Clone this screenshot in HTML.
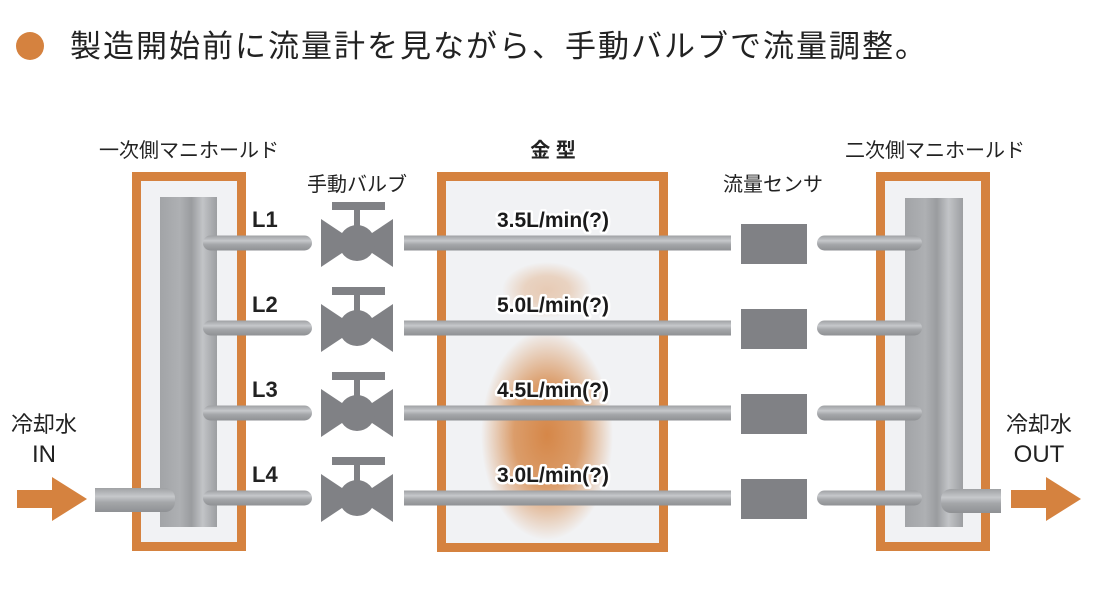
<!DOCTYPE html>
<html><head><meta charset="utf-8"><style>
html,body{margin:0;padding:0;background:#fff;}
svg{display:block;}
.t{font-family:"Liberation Sans","Noto Sans CJK JP",sans-serif;fill:#222;}
.lab{font-family:"Liberation Sans","Noto Sans CJK JP",sans-serif;font-weight:bold;font-size:21px;fill:#1a1a1a;paint-order:stroke;stroke:#fff;stroke-width:5px;stroke-linejoin:round;}
</style></head><body>
<svg width="1108" height="592" viewBox="0 0 1108 592" xmlns="http://www.w3.org/2000/svg">
<defs>
<linearGradient id="col" x1="0" x2="1" y1="0" y2="0">
<stop offset="0" stop-color="#a2a4a7"/><stop offset="0.35" stop-color="#aeb0b3"/><stop offset="0.55" stop-color="#9a9c9f"/><stop offset="0.75" stop-color="#c2c4c7"/><stop offset="1" stop-color="#9c9ea1"/>
</linearGradient>
<linearGradient id="pipe" x1="0" x2="0" y1="0" y2="1">
<stop offset="0" stop-color="#9fa1a4"/><stop offset="0.35" stop-color="#c6c8cb"/><stop offset="0.6" stop-color="#a4a6a9"/><stop offset="1" stop-color="#8f9194"/>
</linearGradient>
<radialGradient id="glow" cx="0.5" cy="0.5" r="0.5">
<stop offset="0" stop-color="#d4813f" stop-opacity="1"/><stop offset="0.5" stop-color="#d4823f" stop-opacity="0.8"/><stop offset="1" stop-color="#d4823f" stop-opacity="0"/>
</radialGradient>
<g id="valve">
<rect x="-25" y="-41" width="53" height="8" fill="#808185"/>
<rect x="-3" y="-35" width="6" height="22" fill="#808185"/>
<polygon points="-36,-24 0,0 -36,24" fill="#808185"/>
<polygon points="36,-24 0,0 36,24" fill="#808185"/>
<circle cx="0" cy="0" r="18" fill="#808185"/>
</g>
</defs>

<circle cx="30" cy="46" r="14" fill="#d5823f"/>
<text class="t" x="70" y="57" font-size="31" letter-spacing="2">製造開始前に流量計を見ながら、手動バルブで流量調整。</text>

<text class="t" x="189" y="157" font-size="20" text-anchor="middle">一次側マニホールド</text>
<text class="t" x="553" y="157" font-size="20" text-anchor="middle" font-weight="bold">金 型</text>
<text class="t" x="935" y="157" font-size="20" text-anchor="middle">二次側マニホールド</text>
<text class="t" x="357" y="191" font-size="20" text-anchor="middle">手動バルブ</text>
<text class="t" x="773" y="191" font-size="20" text-anchor="middle">流量センサ</text>

<rect x="136.5" y="176.5" width="105" height="370" fill="#f1f2f4" stroke="#d5823f" stroke-width="9"/>
<rect x="441.5" y="176.5" width="222" height="371" fill="#f1f2f4" stroke="#d5823f" stroke-width="9"/>
<rect x="880.5" y="176.5" width="105" height="370" fill="#f1f2f4" stroke="#d5823f" stroke-width="9"/>

<ellipse cx="547" cy="290" rx="45" ry="28" fill="url(#glow)" opacity="0.35"/>
<ellipse cx="547" cy="435" rx="66" ry="105" fill="url(#glow)" opacity="0.95"/>

<rect x="160" y="197" width="57" height="330" fill="url(#col)"/>
<rect x="905" y="198" width="58" height="329" fill="url(#col)"/>

<g transform="translate(0,243)">
<rect x="203" y="-7.5" width="109" height="15" rx="7.5" fill="url(#pipe)"/>
<use href="#valve" x="357" y="0"/>
<rect x="404" y="-7.5" width="327" height="15" fill="url(#pipe)"/>
<rect x="741" y="-19" width="66" height="40" fill="#808185"/>
<rect x="817" y="-7.5" width="105" height="15" rx="7.5" fill="url(#pipe)"/>
</g>
<g transform="translate(0,328)">
<rect x="203" y="-7.5" width="109" height="15" rx="7.5" fill="url(#pipe)"/>
<use href="#valve" x="357" y="0"/>
<rect x="404" y="-7.5" width="327" height="15" fill="url(#pipe)"/>
<rect x="741" y="-19" width="66" height="40" fill="#808185"/>
<rect x="817" y="-7.5" width="105" height="15" rx="7.5" fill="url(#pipe)"/>
</g>
<g transform="translate(0,413)">
<rect x="203" y="-7.5" width="109" height="15" rx="7.5" fill="url(#pipe)"/>
<use href="#valve" x="357" y="0"/>
<rect x="404" y="-7.5" width="327" height="15" fill="url(#pipe)"/>
<rect x="741" y="-19" width="66" height="40" fill="#808185"/>
<rect x="817" y="-7.5" width="105" height="15" rx="7.5" fill="url(#pipe)"/>
</g>
<g transform="translate(0,498)">
<rect x="203" y="-7.5" width="109" height="15" rx="7.5" fill="url(#pipe)"/>
<use href="#valve" x="357" y="0"/>
<rect x="404" y="-7.5" width="327" height="15" fill="url(#pipe)"/>
<rect x="741" y="-19" width="66" height="40" fill="#808185"/>
<rect x="817" y="-7.5" width="105" height="15" rx="7.5" fill="url(#pipe)"/>
</g>

<rect x="95" y="488" width="80" height="24" rx="10" fill="url(#pipe)"/>
<rect x="95" y="488" width="20" height="24" fill="url(#pipe)"/>
<rect x="941" y="489" width="60" height="24" rx="10" fill="url(#pipe)"/>
<rect x="981" y="489" width="20" height="24" fill="url(#pipe)"/>

<polygon points="17,490 52,490 52,477 87,499 52,521 52,508 17,508" fill="#d5823f"/>
<polygon points="1011,490 1046,490 1046,477 1081,499 1046,521 1046,508 1011,508" fill="#d5823f"/>

<text class="t" x="252" y="227" font-size="22" font-weight="bold">L1</text>
<text class="t" x="252" y="312" font-size="22" font-weight="bold">L2</text>
<text class="t" x="252" y="397" font-size="22" font-weight="bold">L3</text>
<text class="t" x="252" y="482" font-size="22" font-weight="bold">L4</text>

<text class="lab" x="553" y="227" text-anchor="middle">3.5L/min(?)</text>
<text class="lab" x="553" y="312" text-anchor="middle">5.0L/min(?)</text>
<text class="lab" x="553" y="397" text-anchor="middle">4.5L/min(?)</text>
<text class="lab" x="553" y="482" text-anchor="middle">3.0L/min(?)</text>

<text class="t" x="44" y="432" font-size="22" text-anchor="middle">冷却水</text>
<text class="t" x="44" y="462" font-size="24" text-anchor="middle">IN</text>
<text class="t" x="1039" y="432" font-size="22" text-anchor="middle">冷却水</text>
<text class="t" x="1039" y="462" font-size="24" text-anchor="middle">OUT</text>
</svg>
</body></html>
